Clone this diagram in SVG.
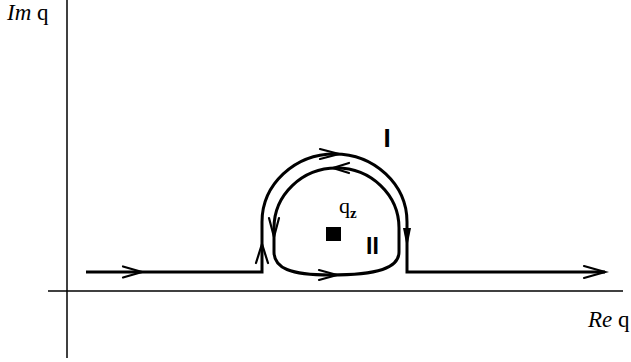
<svg xmlns="http://www.w3.org/2000/svg" width="631" height="362" viewBox="0 0 631 362">
<style>
.axis{stroke:#000;stroke-width:1.5;fill:none}
.path{stroke:#000;stroke-width:3;fill:none;stroke-linejoin:miter}
.chev{stroke:#000;stroke-width:2.2;fill:none;stroke-linecap:round;stroke-linejoin:miter}
.lbl{font-family:"Liberation Serif","Times New Roman",serif;fill:#000}
.roman{font-family:"Liberation Sans",Arial,sans-serif;font-weight:bold;fill:#000}
</style>
<rect width="631" height="362" fill="#fff"/>
<g id="axes">
<line class="axis" x1="67" y1="0" x2="67" y2="358"/>
<line class="axis" x1="48" y1="291" x2="623" y2="291"/>
</g>
<g id="connectors">
<path id="contour-I" class="path" d="M86 272 H262 V222 A72.5 68 0 0 1 407 222 V272 H605"/>
<path id="contour-II" class="path" d="M399 228 A62.5 60 0 0 0 274 228 V252 C274 268 290 275 330 275 C378 275 399 268 399 252 Z"/>
<path class="chev" d="M123 266.5 L142 272 L123 277.5"/>
<path class="chev" d="M584 266 L605 272 L584 278"/>
<path class="chev" d="M320 149 L339 154 L320 159"/>
<path class="chev" d="M349 163 L333 168 L349 173"/>
<path class="chev" d="M269 218 L274 237 L279 218"/>
<path class="chev" d="M256 263 L262 244 L268 263"/>
<path class="chev" d="M319 270 L337 275 L319 280"/>
<polygon points="403,228 411,228 407,248" fill="#000"/>
</g>
<g id="label-im">
<text class="lbl" x="7" y="20" style="font-size:23px"><tspan font-style="italic">Im</tspan> q</text>
</g>
<g id="label-re">
<text class="lbl" x="588" y="327" style="font-size:23px"><tspan font-style="italic">Re</tspan> q</text>
</g>
<g id="label-I">
<text class="roman" x="383.5" y="147" style="font-size:26px">I</text>
</g>
<g id="label-II">
<text class="roman" x="366" y="254" style="font-size:23px">II</text>
</g>
<g id="pole">
<rect x="326" y="227" width="15" height="14" fill="#000"/>
<text class="lbl" x="339" y="213" style="font-size:22px">q<tspan style="font-size:15px;font-weight:bold" dy="5">z</tspan></text>
</g>
</svg>
